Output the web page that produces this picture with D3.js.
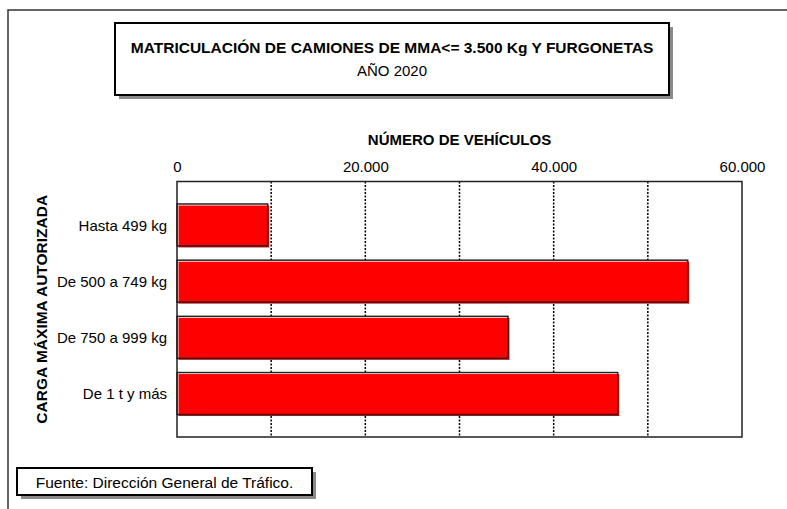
<!DOCTYPE html>
<html lang="es">
<head>
<meta charset="UTF-8">
<title>Matriculación de camiones de MMA &lt;= 3.500 Kg y furgonetas</title>
<script src="https://cdn.jsdelivr.net/npm/d3@7"></script>
<style>
  body { margin: 0; background: #ffffff; }
  svg text { font-family: "Liberation Sans", Arial, sans-serif; fill: #000; }
</style>
</head>
<body>
<div id="chart"></div>
<script>
// data
const categories = ['Hasta 499 kg', 'De 500 a 749 kg', 'De 750 a 999 kg', 'De 1 t y más'];
const vehicles = [9630, 54230, 35150, 46800];
const tickValues = [0, 20000, 40000, 60000];
const gridValues = [10000, 20000, 30000, 40000, 50000];

const titleLines = ['MATRICULACIÓN DE CAMIONES DE MMA<= 3.500 Kg Y FURGONETAS', 'AÑO 2020'];
const xTitle = 'NÚMERO DE VEHÍCULOS';
const yTitle = 'CARGA MÁXIMA AUTORIZADA';
const source = 'Fuente: Dirección General de Tráfico.';

const width = 787, height = 509;
const plot = { left: 177, right: 742, top: 181.5, bottom: 437 };

const es = d3.formatLocale({ decimal: ',', thousands: '.', grouping: [3], currency: ['', ' €'] });
const fmt = es.format(',');

const svg = d3.select('#chart')
  .append('svg')
  .attr('width', width)
  .attr('height', height);

// outer frame (only top and left visible)
svg.append('path')
  .attr('d', `M8,${height} L8,10 L${width},10`)
  .attr('fill', 'none')
  .attr('stroke', '#333')
  .attr('stroke-width', 1.5);

// boxed text with a grey drop shadow
const shadowBox = (x, y, w, h) => {
  svg.append('rect')
    .attr('x', x + 4).attr('y', y + 4)
    .attr('width', w).attr('height', h)
    .attr('fill', '#8a8a8a');
  svg.append('rect')
    .attr('x', x).attr('y', y)
    .attr('width', w).attr('height', h)
    .attr('fill', '#fff')
    .attr('stroke', '#000')
    .attr('stroke-width', 2);
};

// title
shadowBox(115, 23, 554, 72);
svg.append('text')
  .attr('x', 392).attr('y', 53)
  .attr('text-anchor', 'middle')
  .style('font-size', '15.5px')
  .style('font-weight', 'bold')
  .text(titleLines[0]);
svg.append('text')
  .attr('x', 392).attr('y', 76)
  .attr('text-anchor', 'middle')
  .style('font-size', '15px')
  .text(titleLines[1]);

// scales
const x = d3.scaleLinear()
  .domain([0, 60000])
  .range([plot.left, plot.right]);

const y = d3.scaleBand()
  .domain(categories)
  .range([plot.top, plot.bottom])
  .paddingInner(0.253)
  .paddingOuter(0.4);

// plot area
svg.append('rect')
  .attr('x', plot.left).attr('y', plot.top)
  .attr('width', plot.right - plot.left)
  .attr('height', plot.bottom - plot.top)
  .attr('fill', '#fff');

// dotted grid
svg.append('g')
  .selectAll('line')
  .data(gridValues)
  .join('line')
  .attr('x1', d => x(d)).attr('x2', d => x(d))
  .attr('y1', plot.top).attr('y2', plot.bottom)
  .attr('stroke', '#000')
  .attr('stroke-width', 1.5)
  .attr('stroke-dasharray', '2,1.5');

// bars: red fill slightly offset, dark outline on top
const bars = svg.append('g')
  .selectAll('g')
  .data(categories.map((c, i) => ({ cat: c, value: vehicles[i] })))
  .join('g');

bars.append('rect')
  .attr('x', x(0) + 1.5)
  .attr('y', d => y(d.cat) + 1.5)
  .attr('width', d => x(d.value) - x(0))
  .attr('height', y.bandwidth())
  .attr('fill', '#ff0000');

bars.append('rect')
  .attr('x', x(0))
  .attr('y', d => y(d.cat))
  .attr('width', d => x(d.value) - x(0))
  .attr('height', y.bandwidth())
  .attr('fill', 'none')
  .attr('stroke', '#222')
  .attr('stroke-width', 1.5);

// plot border
svg.append('rect')
  .attr('x', plot.left).attr('y', plot.top)
  .attr('width', plot.right - plot.left)
  .attr('height', plot.bottom - plot.top)
  .attr('fill', 'none')
  .attr('stroke', '#222')
  .attr('stroke-width', 1.5);

// top axis labels
const xAxis = d3.axisTop(x)
  .tickValues(tickValues)
  .tickFormat(fmt)
  .tickSize(0)
  .tickPadding(0);

svg.append('g')
  .attr('transform', `translate(0, ${171.5})`)
  .call(xAxis)
  .call(g => g.select('.domain').remove())
  .call(g => g.selectAll('text')
    .attr('dy', 0)
    .style('font-size', '15px')
    .style('font-family', '"Liberation Sans", Arial, sans-serif'));

// category labels
const yAxis = d3.axisLeft(y)
  .tickSize(0)
  .tickPadding(0);

svg.append('g')
  .attr('transform', 'translate(167, 0)')
  .call(yAxis)
  .call(g => g.select('.domain').remove())
  .call(g => g.selectAll('text')
    .attr('dy', '0.37em')
    .style('font-size', '15px')
    .style('font-family', '"Liberation Sans", Arial, sans-serif'));

// axis titles
svg.append('text')
  .attr('x', (plot.left + plot.right) / 2).attr('y', 145)
  .attr('text-anchor', 'middle')
  .style('font-size', '15px')
  .style('font-weight', 'bold')
  .text(xTitle);

svg.append('text')
  .attr('transform', `translate(46.5, ${(plot.top + plot.bottom) / 2}) rotate(-90)`)
  .attr('text-anchor', 'middle')
  .style('font-size', '15.5px')
  .style('font-weight', 'bold')
  .text(yTitle);

// source note
shadowBox(17, 468, 295, 27);
svg.append('text')
  .attr('x', 164.5).attr('y', 487.5)
  .attr('text-anchor', 'middle')
  .style('font-size', '15.5px')
  .text(source);
</script>
</body>
</html>
